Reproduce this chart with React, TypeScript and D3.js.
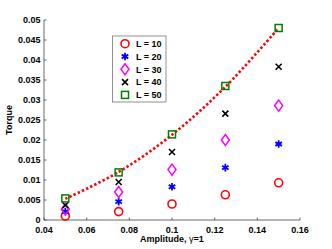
import { curveCatmullRom, line, scaleLinear, symbol, symbolAsterisk } from "d3";

const amplitudes = [0.05, 0.075, 0.1, 0.125, 0.15];
const torqueL10 = [0.001, 0.0021, 0.004, 0.0063, 0.0093];
const torqueL20 = [0.0021, 0.0046, 0.0083, 0.0131, 0.019];
const torqueL30 = [0.0027, 0.007, 0.0126, 0.02, 0.0286];
const torqueL40 = [0.0037, 0.0095, 0.017, 0.0266, 0.0383];
const torqueL50 = [0.0054, 0.0119, 0.0214, 0.0335, 0.048];
const fitX = [0.05, 0.075, 0.1, 0.125, 0.15];
const fitY = [0.0053, 0.012, 0.0213, 0.0333, 0.048];
const xTicks = [0.04, 0.06, 0.08, 0.1, 0.12, 0.14, 0.16];
const yTicks = [0, 0.005, 0.01, 0.015, 0.02, 0.025, 0.03, 0.035, 0.04, 0.045, 0.05];
const legendLabels = ["L = 10", "L = 20", "L = 30", "L = 40", "L = 50"];

const font = "'Liberation Sans', Arial, sans-serif";

const Marker = ({ kind, x, y }: { kind: number; x: number; y: number }) => {
  switch (kind) {
    case 0:
      return <circle cx={x} cy={y} r={4} fill="none" stroke="#ff0000" strokeWidth={1.6} />;
    case 1:
      return (
        <path
          d={symbol(symbolAsterisk, 40)()!}
          transform={`translate(${x},${y})`}
          fill="none"
          stroke="#0000ff"
          strokeWidth={1.8}
        />
      );
    case 2:
      return (
        <path
          d={`M${x},${y - 5.5}L${x + 4},${y}L${x},${y + 5.5}L${x - 4},${y}Z`}
          fill="none"
          stroke="#ff00ff"
          strokeWidth={1.5}
        />
      );
    case 3:
      return (
        <path
          d={`M${x - 3},${y - 3}L${x + 3},${y + 3}M${x - 3},${y + 3}L${x + 3},${y - 3}`}
          stroke="#000"
          strokeWidth={1.6}
        />
      );
    default:
      return (
        <rect x={x - 3.5} y={y - 3.5} width={7} height={7} fill="none" stroke="#008000" strokeWidth={1.5} />
      );
  }
};

export default function App() {
  const width = 332;
  const height = 249;
  const x = scaleLinear().domain([0.04, 0.16]).range([44, 300]);
  const y = scaleLinear().domain([0, 0.05]).range([220, 20]);
  const series = [torqueL10, torqueL20, torqueL30, torqueL40, torqueL50];

  const fitPath = line<number>()
    .x((d) => x(d))
    .y((_, i) => y(fitY[i]))
    .curve(curveCatmullRom)(fitX);

  return (
    <svg
      width={width}
      height={height}
      style={{ position: "absolute", left: 0, top: 0, background: "#fff" }}
      fontFamily={font}
    >
      {/* axes */}
      <line x1={x(0.04)} x2={x(0.16)} y1={y(0)} y2={y(0)} stroke="#444" strokeWidth={0.8} />
      <line x1={x(0.04)} x2={x(0.04)} y1={y(0)} y2={y(0.05)} stroke="#444" strokeWidth={0.8} />
      {xTicks.map((t) => (
        <g key={t}>
          <line x1={x(t)} x2={x(t)} y1={y(0)} y2={y(0) - 2.5} stroke="#444" strokeWidth={0.8} />
          <text x={x(t)} y={y(0) + 12.5} textAnchor="middle" fontSize={9} fontWeight="bold">
            {String(t)}
          </text>
        </g>
      ))}
      {yTicks.map((t) => (
        <g key={t}>
          <line x1={x(0.04)} x2={x(0.04) + 2.5} y1={y(t)} y2={y(t)} stroke="#444" strokeWidth={0.8} />
          <text x={x(0.04) - 3.5} y={y(t) + 3.2} textAnchor="end" fontSize={9} fontWeight="bold">
            {String(t)}
          </text>
        </g>
      ))}
      <text x={172} y={241.5} textAnchor="middle" fontSize={9} fontWeight="bold">
        Amplitude, <tspan fontWeight="normal">γ</tspan>=1
      </text>
      <text transform={`translate(11.5,${y(0.025)}) rotate(-90)`} textAnchor="middle" fontSize={9} fontWeight="bold">
        Torque
      </text>

      {/* fit */}
      <path d={fitPath!} fill="none" stroke="#ff0000" strokeWidth={2.6} strokeDasharray="2.4 2.2" />

      {/* data */}
      {series.map((vals, k) =>
        vals.map((v, i) => <Marker key={`${k}-${i}`} kind={k} x={x(amplitudes[i])} y={y(v)} />)
      )}

      {/* legend */}
      <rect x={112.5} y={36} width={53.5} height={66} fill="#fff" stroke="#777" strokeWidth={0.8} />
      {legendLabels.map((lab, k) => (
        <g key={lab}>
          <Marker kind={k} x={125} y={43.7 + k * 12.8} />
          <text x={136} y={43.7 + k * 12.8 + 3.3} fontSize={9} fontWeight="bold">
            {lab}
          </text>
        </g>
      ))}
    </svg>
  );
}
